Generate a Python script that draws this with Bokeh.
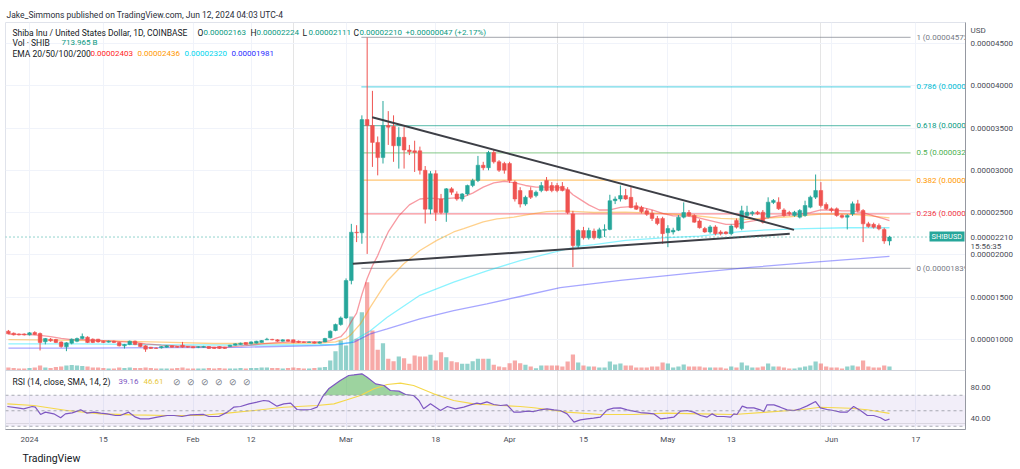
from bokeh.plotting import figure
from bokeh.models import Range1d, LinearAxis, FixedTicker, Span, Grid, Title
from bokeh.core.properties import value
from bokeh.embed import file_html
from bokeh.resources import INLINE

# ---------------- data (prices in units of 1e-6 USD) ----------------
first_day = -4  # Dec 28 2023; day 0 = Jan 1 2024
open_e6 = [
    10.96, 10.72, 10.60, 10.62,
    10.52, 10.80, 10.68, 9.70, 10.01, 9.97, 9.69, 9.10, 9.54, 9.77,
    10.09, 10.25, 10.01, 10.01, 9.77, 9.66, 9.77, 9.62, 9.22, 9.38,
    9.77, 9.50, 9.22, 9.06, 8.95, 8.99, 9.06, 9.22, 9.14, 9.30, 9.14,
    9.10, 9.06, 9.06, 9.14, 9.06, 9.14, 9.06, 9.14, 9.30, 9.38,
    9.62, 9.46, 9.54, 9.62, 9.93, 9.99, 9.93, 9.77, 9.93, 9.93,
    9.77, 9.69, 9.62, 9.69, 9.54, 9.69, 10.17, 11.04, 11.75,
    12.53, 16.95, 22.67, 22.60, 36.00, 35.30, 33.30, 31.50, 35.30, 35.20,
    32.90, 33.90, 32.40, 32.30, 32.30, 30.00, 25.40, 29.60, 26.60, 25.00,
    27.80, 27.20, 26.60, 27.20, 28.20, 28.80, 30.60, 30.30, 32.10, 31.00, 30.80,
    30.80, 28.60, 27.60, 26.00, 27.60, 27.00, 27.60, 28.80, 28.20, 28.20,
    28.10, 27.70, 24.84, 21.10, 22.87, 22.00, 22.80, 22.00, 22.90, 23.00,
    26.40, 26.60, 27.00, 26.80, 25.80, 25.60, 25.20, 24.90, 24.30, 24.30,
    22.60, 22.70, 22.90, 24.45, 25.00, 24.65, 24.00, 23.10, 22.70, 23.30,
    22.70, 22.70, 22.50, 24.06, 23.10, 24.65, 24.85, 25.04, 25.04, 24.45,
    26.20, 26.23, 25.30, 25.00, 24.65, 24.45, 24.65, 25.63, 26.82, 27.61, 25.95,
    25.44, 25.44, 24.65, 24.45, 24.84, 26.03, 25.24, 23.66, 23.60, 23.46, 22.99, 21.63]
high_e6 = [
    11.10, 10.80, 10.70, 10.70,
    10.85, 10.95, 10.80, 10.15, 10.15, 10.05, 9.75, 9.65, 10.10, 10.20,
    10.68, 10.35, 10.10, 10.05, 9.85, 9.85, 9.85, 9.70, 9.45, 9.85,
    9.85, 9.55, 9.30, 9.10, 9.05, 9.20, 9.30, 9.28, 9.20, 9.69, 9.20,
    9.18, 9.18, 9.22, 9.18, 9.10, 9.18, 9.10, 9.35, 9.52, 9.60,
    9.65, 9.75, 9.82, 9.90, 10.17, 10.05, 10.00, 10.00, 10.00, 9.98,
    9.85, 9.75, 9.75, 9.75, 9.75, 10.17, 11.05, 11.85, 12.70,
    17.20, 23.66, 23.50, 36.50, 45.72, 39.40, 34.00, 38.20, 37.00, 36.50,
    35.10, 35.10, 33.00, 33.50, 32.80, 30.50, 29.90, 30.00, 27.20, 27.90,
    28.00, 27.50, 27.30, 28.30, 29.00, 31.70, 31.00, 32.30, 32.40, 31.20, 31.00,
    31.00, 28.80, 28.00, 27.00, 28.00, 27.60, 28.60, 29.20, 28.60, 28.50,
    28.60, 28.00, 25.20, 23.00, 23.30, 23.20, 23.10, 23.20, 23.60, 27.10,
    26.90, 28.20, 27.80, 28.00, 26.20, 25.80, 25.50, 25.30, 24.60, 24.50,
    23.50, 23.20, 24.70, 26.20, 25.30, 24.80, 24.20, 23.30, 23.50, 23.50,
    22.90, 22.80, 23.60, 24.30, 25.80, 25.80, 25.20, 25.20, 25.30, 26.80,
    26.60, 26.80, 25.50, 25.20, 25.20, 25.40, 26.40, 27.00, 29.50, 28.60, 26.20,
    25.60, 25.60, 24.80, 24.80, 26.30, 26.50, 25.40, 23.90, 23.80, 23.70, 23.20, 22.24]
low_e6 = [
    10.60, 10.45, 10.45, 10.45,
    10.45, 10.50, 8.67, 9.40, 9.70, 9.55, 9.00, 8.59, 9.40, 9.65,
    10.00, 9.55, 9.55, 9.60, 9.55, 9.60, 9.55, 9.15, 8.90, 9.30,
    9.30, 9.05, 8.51, 8.85, 8.85, 8.90, 9.00, 9.00, 9.00, 9.00, 8.98,
    8.95, 8.95, 9.00, 8.85, 8.85, 8.85, 8.85, 9.10, 9.25, 9.35,
    9.35, 9.40, 9.50, 9.60, 9.90, 9.88, 9.70, 9.72, 9.70, 9.55,
    9.55, 9.58, 9.58, 9.50, 9.50, 9.65, 10.10, 10.95, 11.60,
    12.40, 16.50, 21.50, 21.30, 20.10, 30.40, 29.40, 30.80, 33.00, 31.00,
    30.20, 30.20, 31.80, 29.80, 29.50, 23.70, 24.80, 24.00, 24.80, 23.90,
    27.10, 26.40, 26.30, 27.00, 28.00, 28.60, 30.00, 30.00, 30.80, 29.80, 29.60,
    28.50, 26.30, 25.60, 25.80, 26.60, 26.80, 27.40, 27.50, 27.40, 27.40,
    27.50, 24.80, 18.53, 20.80, 21.80, 21.80, 21.80, 21.90, 22.10, 22.90,
    26.00, 26.30, 26.50, 25.50, 25.30, 24.90, 24.60, 24.00, 23.50, 21.30,
    20.90, 22.40, 22.80, 24.30, 24.50, 23.80, 23.10, 22.60, 22.50, 22.30,
    22.30, 22.40, 22.30, 23.10, 22.90, 24.50, 24.60, 24.70, 23.70, 24.30,
    26.00, 25.30, 24.50, 24.60, 24.50, 24.30, 24.50, 25.50, 26.60, 25.60, 25.30,
    25.00, 24.50, 24.30, 23.00, 24.60, 25.00, 21.50, 23.20, 23.10, 22.90, 21.30, 21.11]
close_e6 = [
    10.64, 10.52, 10.52, 10.52,
    10.76, 10.56, 9.62, 10.09, 9.81, 9.62, 9.14, 9.58, 10.01, 10.09,
    10.33, 9.62, 9.62, 9.69, 9.62, 9.77, 9.62, 9.22, 9.38, 9.77,
    9.38, 9.14, 8.83, 8.91, 8.91, 9.14, 9.22, 9.06, 9.06, 9.06, 9.06,
    8.99, 9.10, 9.14, 8.91, 8.91, 8.91, 8.91, 9.30, 9.46, 9.54,
    9.38, 9.69, 9.77, 9.85, 10.01, 9.93, 9.77, 9.93, 9.77, 9.62,
    9.62, 9.62, 9.69, 9.54, 9.69, 10.09, 10.96, 11.75, 12.53,
    16.95, 22.67, 22.60, 36.00, 35.30, 33.30, 31.50, 35.30, 35.10, 32.90,
    33.90, 32.40, 32.20, 32.10, 30.00, 25.40, 29.60, 25.00, 25.00, 27.80,
    27.40, 26.60, 27.20, 28.20, 28.80, 30.60, 30.30, 32.10, 31.00, 30.00, 30.00,
    28.80, 26.60, 26.00, 26.80, 26.80, 27.40, 28.20, 27.60, 27.60, 27.60,
    27.60, 25.00, 21.10, 22.87, 22.00, 22.87, 22.00, 22.95, 23.00, 26.40,
    26.60, 27.00, 26.60, 25.60, 25.40, 25.10, 24.80, 24.30, 23.70, 22.50,
    23.10, 22.90, 24.45, 25.00, 24.65, 23.86, 23.20, 22.70, 23.30, 22.50,
    22.50, 22.50, 23.40, 23.27, 25.20, 25.04, 25.04, 24.85, 23.86, 26.23,
    26.42, 25.44, 24.65, 24.85, 25.04, 25.24, 25.83, 26.82, 27.61, 25.83, 25.44,
    25.24, 24.65, 24.45, 24.65, 26.03, 25.24, 23.66, 23.35, 23.27, 23.07, 21.63, 22.10]
volume_b = [  # billions of SHIB
    540, 450, 360, 360,
    450, 540, 900, 540, 450, 630, 720, 900, 990, 900,
    810, 720, 540, 540, 450, 360, 360, 540, 450, 540,
    450, 450, 540, 450, 360, 360, 360, 360, 450, 540, 360,
    360, 360, 360, 450, 360, 450, 360, 360, 360, 450,
    360, 450, 450, 540, 540, 450, 450, 360, 450, 540,
    450, 360, 360, 450, 540, 630, 1800, 3470, 5400,
    4500, 9720, 5700, 10500, 15900, 7200, 3730, 4910, 2100, 1670,
    2520, 2210, 1210, 2700, 2520, 2520, 2830, 1800, 3290, 2390,
    1670, 1490, 1210, 1210, 1670, 2110, 2110, 2110, 1030, 720, 590,
    1310, 1800, 1310, 1030, 720, 410, 900, 900, 900, 900,
    720, 1620, 2880, 1440, 900, 720, 720, 540, 540, 1620,
    1080, 1260, 900, 900, 540, 540, 540, 720, 720, 1440,
    1260, 540, 720, 1080, 720, 720, 720, 540, 540, 540,
    540, 360, 720, 540, 1440, 900, 540, 540, 720, 1260,
    720, 720, 540, 360, 360, 540, 720, 900, 1620, 1260, 720,
    540, 540, 360, 720, 900, 720, 1800, 720, 540, 540, 900, 714]

ema20 = [(-4, 10.6), (0, 10.55), (2, 10.45), (4, 10.3), (6, 10.1), (8, 9.95), (10, 9.95), (12, 9.9),
         (15, 9.82), (18, 9.7), (20, 9.62), (22, 9.45), (25, 9.3), (28, 9.2), (31, 9.15), (35, 9.05),
         (38, 9.1), (41, 9.25), (44, 9.45), (47, 9.6), (50, 9.7), (53, 9.7), (55, 9.68), (56, 9.72),
         (57, 9.85), (58, 10.1), (59, 10.3), (60, 11.0), (61, 12.1), (62, 13.1), (63, 15.3), (64, 17.2),
         (65, 18.7), (66, 19.9), (67, 21.4), (68, 22.7), (70, 24.6), (72, 25.9), (74, 26.6), (76, 26.7),
         (78, 26.6), (80, 26.7), (82, 26.8), (84, 27.3), (86, 28.0), (88, 28.5), (90, 28.7), (92, 28.5),
         (94, 28.2), (96, 28.0), (98, 28.0), (100, 28.0), (102, 27.7), (103, 27.1), (104, 26.7),
         (106, 25.9), (108, 25.3), (110, 25.3), (112, 25.6), (114, 25.7), (116, 25.6), (118, 25.3),
         (120, 24.9), (122, 24.6), (124, 24.6), (126, 24.5), (128, 24.2), (130, 23.9), (132, 23.6),
         (134, 23.6), (136, 23.9), (138, 24.1), (140, 24.4), (142, 24.6), (144, 24.7), (146, 24.8),
         (148, 25.0), (150, 25.3), (152, 25.3), (154, 25.2), (156, 25.2), (158, 25.0), (160, 24.6),
         (162, 24.25), (163, 24.03)]
ema50 = [(-4, 9.95), (5, 9.9), (15, 9.8), (25, 9.65), (35, 9.5), (45, 9.5), (55, 9.55), (58, 9.7),
         (60, 10.1), (61, 10.6), (62.7, 11.8), (64.6, 13.8), (67.8, 16.9), (70.9, 18.9), (74, 20.5),
         (77.2, 21.7), (80.4, 22.7), (82.3, 23.1), (86, 23.9), (88.6, 24.25), (91.8, 24.45), (95, 24.8),
         (98, 25.1), (101, 25.2), (104, 25.1), (107, 25.0), (113, 25.04), (119.6, 24.9), (125.9, 24.65),
         (131, 24.3), (136, 24.2), (140, 24.35), (144, 24.5), (150, 24.8), (154, 24.85), (158, 24.7),
         (163, 24.36)]
ema100 = [(-4, 9.45), (10, 9.45), (25, 9.35), (40, 9.3), (55, 9.35), (58, 9.4), (60.8, 9.6), (64.6, 11.0),
          (67.8, 12.6), (74, 15.2), (80.4, 16.75), (86.7, 18.1), (93, 19.3), (100.6, 20.5), (104, 21.0),
          (107, 21.2), (113, 21.7), (120, 22.0), (127, 22.2), (134.7, 22.75), (140, 22.95), (147, 23.1),
          (155, 23.2), (163, 23.2)]
ema200 = [(-4, 8.95), (10, 8.95), (25, 9.0), (40, 9.05), (55, 9.26), (58, 9.35), (61.5, 9.66),
          (64.6, 10.64), (67.8, 11.23), (74, 12.4), (80.4, 13.4), (86.7, 14.2), (93, 15.06), (100.6, 16.1),
          (112, 16.96), (125, 17.8), (136.6, 18.5), (150, 19.2), (163, 19.81)]

rsi_points = [(-4.2, 55.5), (-2.3, 53.8), (-1.1, 52.5), (0.5, 55.5), (1.1, 54.6), (2.1, 45.2), (3.0, 48.2),
              (4.6, 46.0), (5.9, 40.9), (6.8, 46.0), (8.1, 47.3), (9.7, 51.2), (10.9, 46.9), (12.2, 48.2),
              (13.5, 46.9), (14.7, 46.0), (16.3, 43.9), (17.2, 43.9), (18.8, 48.2), (20.1, 41.7), (21.0, 39.6),
              (22.6, 39.6), (24.2, 41.7), (26.1, 43.9), (27.4, 43.9), (28.9, 42.6), (30.5, 44.7), (33.0, 45.2),
              (34.0, 42.6), (35.9, 42.6), (37.5, 48.2), (38.7, 54.6), (40.0, 55.5), (41.6, 58.9), (43.1, 61.1),
              (44.4, 63.2), (45.4, 62.4), (46.9, 55.9), (48.2, 58.9), (49.5, 59.8), (50.7, 51.6), (52.0, 51.2),
              (53.3, 51.6), (54.5, 54.6), (55.5, 67.5), (56.7, 78.3), (58.9, 89.0), (60.5, 95.5), (61.5, 96.3),
              (63.0, 97.6), (64.0, 93.3), (65.6, 84.7), (67.2, 82.6), (68.4, 76.1), (70.0, 75.3), (71.3, 71.0),
              (72.8, 69.7), (73.8, 63.2), (74.7, 52.5), (76.0, 58.9), (77.9, 50.3), (79.2, 55.5), (80.7, 52.5),
              (82.3, 54.6), (83.6, 57.6), (84.8, 59.8), (85.5, 58.9), (86.7, 61.5), (88.0, 58.1), (89.3, 56.8),
              (90.5, 57.6), (91.8, 48.2), (93.0, 48.2), (94.3, 49.5), (95.6, 49.0), (96.8, 51.2), (98.1, 52.5),
              (99.4, 51.2), (100.6, 50.3), (101.9, 46.0), (103.2, 35.3), (104.4, 38.3), (105.7, 39.6),
              (106.9, 40.4), (108.2, 41.7), (109.5, 51.2), (110.7, 53.3), (112.0, 53.8), (113.3, 51.2),
              (114.5, 49.5), (115.8, 47.7), (117.1, 46.9), (118.3, 46.0), (119.6, 39.6), (120.8, 40.4),
              (122.1, 41.7), (123.4, 49.5), (124.6, 50.3), (125.9, 48.2), (127.2, 43.9), (128.4, 41.7),
              (129.4, 46.0), (130.3, 42.6), (131.6, 42.6), (132.9, 41.7), (133.5, 46.0), (134.1, 45.2),
              (135.1, 55.9), (136.0, 53.8), (137.3, 53.8), (138.5, 51.2), (139.2, 49.0), (139.8, 57.6),
              (141.1, 57.6), (142.3, 54.6), (143.6, 51.2), (144.9, 50.3), (146.1, 52.5), (147.4, 56.3),
              (149.0, 61.9), (149.9, 53.8), (151.2, 51.6), (152.4, 50.3), (153.7, 48.2), (155.0, 48.2),
              (156.2, 55.5), (157.5, 50.3), (158.8, 43.9), (160.0, 43.9), (161.3, 40.9), (162.2, 37.4),
              (163.0, 39.16)]
rsi_sma_points = [(-4.2, 58.9), (0.8, 56.8), (7.1, 50.3), (13.5, 46.0), (19.8, 44.7), (26.1, 43.9), (32.4, 43.9),
                  (37.5, 46.9), (42.5, 50.3), (48.2, 54.6), (54.5, 56.8), (57.7, 58.9), (60.2, 64.1), (62.7, 69.7),
                  (65.3, 78.3), (67.8, 83.9), (70.3, 85.6), (72.8, 82.6), (76.6, 71.8), (80.4, 63.2), (84.2, 58.9),
                  (89.3, 56.8), (93.0, 55.5), (95.6, 53.8), (101.9, 48.2), (108.2, 45.2), (114.5, 45.2),
                  (120.8, 46.9), (127.2, 46.0), (133.5, 45.2), (139.8, 48.2), (146.1, 51.2), (149.9, 54.6),
                  (155.6, 53.3), (158.8, 51.2), (163.0, 46.61)]

trend_upper = [(64.95, 36.28), (144.9, 22.95)]
trend_lower = [(61.28, 18.93), (144.1, 22.48)]
fib_high, fib_low = 45.72, 18.39
fib_ratios = [1, 0.786, 0.618, 0.5, 0.382, 0.236, 0]
fib_start_day, fib_end_day = 62.9, 167.0
last_price = 22.10

tick_days = [0, 14, 31, 42, 60, 77, 91, 105, 121, 133, 152, 168]
tick_labels = ["2024", "15", "Feb", "12", "Mar", "18", "Apr", "15", "May", "13", "Jun", "17"]
price_ticks = [10, 15, 20, 25, 30, 35, 40, 45]
rsi_ticks = [80, 40]

# ---------------- layout constants ----------------
W, H = 1020, 469
FL, FR, FT, FB = 5, 965, 22, 429
X0, X1 = -4.549, 177.41
Y0, Y1 = -0.68, 47.49
R0, R1 = 25.81, 550.97
V0, V1 = -10620, 62640
PANE_SPLIT = 6.30
FONT = "Roboto"
FS = "8.5px"
NS = "8px"
GREEN, RED = "#26a69a", "#ef5350"
DARK = "#131722"


def px2x(px):
    return X0 + (px - FL) / (FR - FL) * (X1 - X0)


def py2y(py):
    return Y0 + (FB - py) / (FB - FT) * (Y1 - Y0)


def rsi_to_main(r):
    return Y0 + (r - R0) / (R1 - R0) * (Y1 - Y0)


p = figure(width=W, height=H, x_range=Range1d(X0, X1), y_range=Range1d(Y0, Y1),
           output_backend="svg", toolbar_location=None,
           x_axis_location=None, y_axis_location=None,
           min_border_left=FL, min_border_right=W - FR, min_border_top=FT, min_border_bottom=H - FB,
           outline_line_color="#e0e3eb", background_fill_color="white", border_fill_color="white")
p.extra_y_ranges = {"rsi": Range1d(R0, R1), "vol": Range1d(V0, V1)}

p.add_layout(Title(text="Jake_Simmons published on TradingView.com, Jun 12, 2024 04:03 UTC-4",
                   align="left", offset=1, standoff=5, text_font=FONT, text_font_size="8.5px",
                   text_font_style="normal", text_color="#2a2e39"), "above")

p.add_layout(Grid(dimension=0, ticker=FixedTicker(ticks=tick_days), grid_line_color="#f0f3fa"))
p.add_layout(Grid(dimension=1, ticker=FixedTicker(ticks=price_ticks), grid_line_color="#f0f3fa"))

# right price scale (prices, RSI levels, scale caption and last-price tag)
usd_pos, price_pos, timer_pos = py2y(30), last_price, py2y(246)
ax_ticks = price_ticks + [rsi_to_main(r) for r in rsi_ticks] + [usd_pos, price_pos, timer_pos]
overrides = {t: f"{t / 1e6:.8f}" for t in price_ticks}
for r in rsi_ticks:
    overrides[rsi_to_main(r)] = f"{r:.2f}"
overrides[usd_pos] = "USD"
overrides[price_pos] = f"{last_price / 1e6:.8f}"
overrides[timer_pos] = "15:56:35"
yax = LinearAxis(ticker=FixedTicker(ticks=ax_ticks), major_label_overrides=overrides,
                 axis_line_color="#9598a1", major_tick_line_color=None, minor_tick_line_color=None,
                 major_tick_out=0, major_tick_in=0,
                 major_label_text_font=FONT, major_label_text_font_size=NS,
                 major_label_text_color="#4a4d57", major_label_standoff=5)
p.add_layout(yax, "right")
xax = LinearAxis(ticker=FixedTicker(ticks=tick_days),
                 major_label_overrides={d: l for d, l in zip(tick_days, tick_labels)},
                 axis_line_color="#9598a1", major_tick_line_color=None, minor_tick_line_color=None,
                 major_tick_out=0, major_tick_in=0,
                 major_label_text_font=FONT, major_label_text_font_size=NS,
                 major_label_text_color="#4a4d57", major_label_standoff=5)
p.add_layout(xax, "below")
p.add_layout(Title(text="TradingView", align="left", offset=17, standoff=6, text_font=FONT,
                   text_font_size="10.5px", text_font_style="normal", text_color=DARK), "below")

days = list(range(first_day, first_day + len(close_e6)))
colors = [GREEN if c >= o else RED for o, c in zip(open_e6, close_e6)]

# volume
p.vbar(x=days, top=volume_b, bottom=0, width=0.8, fill_color=colors, fill_alpha=0.5,
       line_color=None, y_range_name="vol")

# fibonacci retracement
fib_colors = ["#787b86", "#00bcd4", "#089981", "#4caf50", "#ff9800", "#f23645", "#787b86"]
fib_levels = [fib_low + r * (fib_high - fib_low) for r in fib_ratios]
p.segment(x0=[fib_start_day] * 7, x1=[fib_end_day] * 7, y0=fib_levels, y1=fib_levels,
          line_color=fib_colors, line_alpha=0.55, line_width=1.3)
p.text(x=[fib_end_day + 1.1] * 7, y=fib_levels,
       text=[f"{r} ({lv / 1e6:.8f})" for r, lv in zip(fib_ratios, fib_levels)],
       text_color=fib_colors, text_font=value(FONT), text_font_size=NS, text_baseline="middle")

# EMAs
for pts, col, a in [(ema200, "#3c3cff", 0.45), (ema100, "#00e5ff", 0.45),
                    (ema50, "#ff9800", 0.45), (ema20, "#f23645", 0.5)]:
    p.line([d for d, _ in pts], [v for _, v in pts], line_color=col, line_alpha=a, line_width=1.3)

# last price dotted line
p.add_layout(Span(location=last_price, dimension="width", line_color=GREEN,
                  line_dash="1 3", line_width=1))

# candles
p.segment(x0=days, x1=days, y0=low_e6, y1=high_e6, line_color=colors, line_width=1)
p.vbar(x=days, top=[max(o, c) for o, c in zip(open_e6, close_e6)],
       bottom=[min(o, c) for o, c in zip(open_e6, close_e6)], width=0.7,
       fill_color=colors, line_color=colors, line_width=0.5)

# trend lines
for tl in (trend_upper, trend_lower):
    p.line([d for d, _ in tl], [v for _, v in tl], line_color="#3d3f46", line_width=2)

# RSI pane
p.add_layout(Span(location=PANE_SPLIT, dimension="width", line_color="#d1d4dc", line_width=1))
p.varea(x=[X0, X1], y1=[30, 30], y2=[70, 70], fill_color="#7e57c2", fill_alpha=0.1, y_range_name="rsi")
for lvl in (70, 50, 30):
    p.add_layout(Span(location=lvl, dimension="width", y_range_name="rsi", line_color="#9598a1",
                      line_dash="3 3", line_width=1, line_alpha=0.8))
rd = [d for d, _ in rsi_points]
rv = [r for _, r in rsi_points]
p.varea(x=rd, y1=[70] * len(rv), y2=[max(r, 70) for r in rv], fill_color="#4caf50", fill_alpha=0.55,
        y_range_name="rsi")
p.line([d for d, _ in rsi_sma_points], [r for _, r in rsi_sma_points], line_color="#f5d84a",
       line_width=1.1, y_range_name="rsi")
p.line(rd, rv, line_color="#7e57c2", line_width=1.2, y_range_name="rsi")

# ---------------- in-pane legend texts ----------------
def txt(px, py, text, color, size=FS):
    p.text(x=[px2x(px)], y=[py2y(py)], text=[text], text_color=color, text_font=value(FONT),
           text_font_size=size, text_baseline="middle", text_align="left")


txt(12, 32, "Shiba Inu / United States Dollar, 1D, COINBASE", DARK)
for px, k, v in [(197, "O", "0.00002163"), (250, "H", "0.00002224"), (302, "L", "0.00002111"),
                 (353, "C", "0.00002210")]:
    txt(px, 32, k, DARK)
    txt(px + 6, 32, v, "#089981", NS)
txt(405, 32, "+0.00000047 (+2.17%)", "#089981", NS)
txt(12, 42, "Vol · SHIB", DARK)
txt(61, 42, "713.965 B", "#089981", NS)
txt(12, 53, "EMA 20/50/100/200", DARK)
for px, v, c in [(90, "0.00002403", "#ff1e1e"), (137, "0.00002436", "#ff9800"),
                 (184, "0.00002320", "#00d5ee"), (231, "0.00001981", "#2a2aff")]:
    txt(px, 53, v, c, NS)
txt(12, 381, "RSI (14, close, SMA, 14, 2)", DARK)
txt(118, 381, "39.16", "#7e57c2", NS)
txt(143, 381, "46.61", "#e8c93a", NS)
for i in range(6):
    txt(172 + i * 14, 381, "⊘", "#787b86")
p.quad(left=[px2x(929)], right=[px2x(964)], top=[py2y(231)], bottom=[py2y(241)],
       fill_color=GREEN, line_color=None)
txt(931, 236, "SHIBUSD", "white", "7.5px")

open("out.html", "w").write(file_html(p, INLINE))
